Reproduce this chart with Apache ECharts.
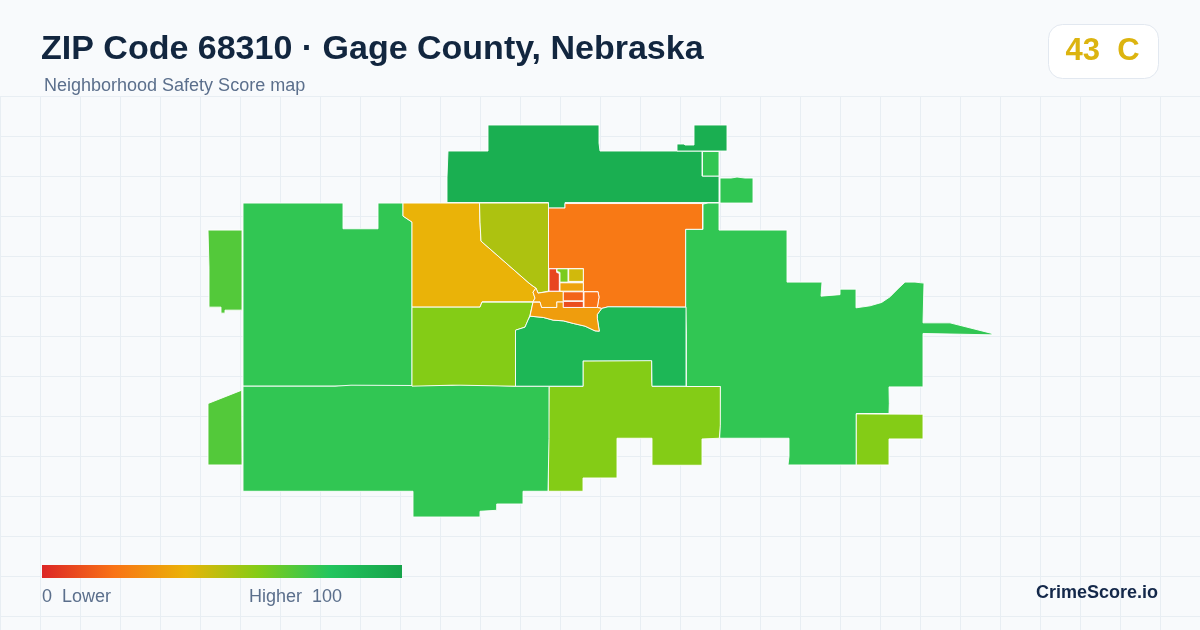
<!DOCTYPE html>
<html>
<head>
<meta charset="utf-8">
<title>ZIP Code 68310</title>
<script src="https://cdn.jsdelivr.net/npm/echarts@6/dist/echarts.min.js"></script>
<style>
  html, body { margin: 0; padding: 0; background: #f8fafc; }
  #chart { width: 1200px; height: 630px; }
</style>
</head>
<body>
<div id="chart"></div>
<script>
const titleText = "ZIP Code 68310 · Gage County, Nebraska"
const subtitleText = "Neighborhood Safety Score map"
const overallScore = 43
const overallGrade = "C"
const scaleColors = ["#dc2626", "#f97316", "#eab308", "#84cc16", "#22c55e", "#16a34a"]

const northOutline = [[488,125],[599,125],[599,143],[600,151],[702,151],[702,176],[719,176],[719,202.5],[565,202.5],[565,208],[548.5,208],[548.5,202.5],[447,202.5],[447,177],[448,151],[488,151]]
const northTailOutline = [[677,144],[684,144],[685,145],[694,145],[694,125],[727,125],[727,151],[677,151]]
const northNotchOutline = [[702.5,151.5],[719,151.5],[719,176],[702.5,176]]
const northEastOutline = [[720,178],[731,178],[737,177],[745,178],[753,178],[753,203],[720,203]]
const westOutline = [[243,203],[343,203],[343,228.7],[378,228.7],[378,203],[403,203],[403,216],[412,222],[412,307],[412,386],[243,386]]
const farWestOutline = [[208,230],[242,230],[242,310],[225,310],[225,313],[221,313],[221,307],[209,307],[209,268],[208,268]]
const farSouthWestOutline = [[208,403.3],[241.7,390],[242,464.7],[208,464.7]]
const cityWestOutline = [[403,203],[479.5,203],[480,222],[481,241],[529,283],[533,286],[536,288],[533,292],[535,298],[533,301.7],[482,301.7],[480,307],[412,307],[412,222],[403,216]]
const cityNorthOutline = [[479.5,203],[548.5,203],[548.5,291],[538,293],[536,288],[533,286],[529,283],[481,241],[480,222]]
const cityNorthEastOutline = [[548.5,208],[565,208],[565,203.5],[702.5,203.5],[702.5,229.3],[685.7,229.3],[685.7,307],[608,306.7],[601.7,308.3],[597.3,307.3],[599,297],[598,291.4],[583.3,291.4],[583.3,268.4],[548.5,268.4]]
const eastOutline = [[703,204],[708,203],[719,203],[719,230],[787,230],[787,282],[822,282],[821,296],[840,294.5],[840,289],[856,289],[856,307.7],[870,305.7],[881.7,302.3],[890,296.7],[898.3,288.3],[905,282],[915,282],[924,283],[923,322.7],[950,322.7],[992,333.3],[992,334.7],[923,333.3],[923,386.7],[889,386.7],[889.3,403.3],[889,413.3],[856.3,413.3],[856.3,464.7],[788,464.7],[789,456],[789,438],[719.7,438],[720.3,386.3],[686.3,386.3],[686.3,333],[685.7,307],[685.7,229.3],[703,229.3]]
const southCentralOutline = [[549,386.3],[583,386.3],[583,360.7],[651.7,360.3],[651.7,380],[652.3,386.3],[720.3,386.3],[720.3,425],[719.3,438],[702,438.7],[702,465],[652,465],[652,438],[617,438],[617,477.7],[583,477.7],[583,491],[548.3,491],[548.3,438.3],[549.3,438]]
const southWestOutline = [[243,386],[249,386],[335,386],[351,385],[412,385.3],[452,385],[460,384.5],[490,385],[515,386],[549,386],[549,438],[548,491],[523,491],[523,503.7],[496.7,503.7],[496.7,510],[480,511],[480,516.7],[413,516.7],[413,491],[243,491]]
const cityWestSouthOutline = [[412,307],[480,307],[482,302],[533,302],[530,315],[528,320],[525,327],[516,330],[515.5,386],[460,385],[452,385],[412,386]]
const citySouthOutline = [[515.5,330],[516,330],[525,327],[528,320],[530,316],[543.3,317.3],[553.3,320],[563.3,320.7],[573.3,323.3],[585,326],[595,330.7],[599.3,331],[597.3,318.3],[597.3,314.3],[601.7,308.3],[608,306.7],[686,307],[686,386],[652,386],[651.7,360.5],[583,360.7],[583,386],[515.5,386]]
const southEastOutline = [[856.3,413.7],[923,414],[923,438.7],[889,438.7],[889,464.7],[856.3,464.7]]
const townRiverOutline = [[533,302],[540,302],[541.7,307.3],[556.7,307.3],[556.7,301.7],[563.3,301.7],[563.3,307.3],[597.3,307.3],[601.7,308.3],[597.3,314.3],[597.3,318.3],[599.3,331],[595,330.7],[585,326],[573.3,323.3],[563.3,320.7],[553.3,320],[543.3,317.3],[530,316]]
const townWestOutline = [[536,288],[538,293],[549,291.4],[563.3,291.4],[563.3,301.7],[556.7,301.7],[556.7,307.3],[541.7,307.3],[540,301.7],[533,301.7],[535,298],[533,292]]
const townRedOutline = [[549,268.7],[556.7,268.7],[556.7,272.3],[559.3,273.3],[559.3,291],[549,291]]
const townLimeOutline = [[557,268.7],[568,268.7],[568,282],[560,282],[560,272.3],[557,271.3]]
const townGoldOutline = [[568.7,268.7],[583.3,268.7],[583.3,281.3],[568.7,281.3]]
const townAmberOutline = [[560,282.7],[583.3,282.7],[583.3,291],[560,291]]
const townCoreOutline = [[563.3,291.7],[583.3,291.7],[583.3,300.7],[563.3,300.7]]
const townCoreSouthOutline = [[563.3,301.3],[583.3,301.3],[583.3,307.3],[563.3,307.3]]
const townEastOutline = [[584,291.7],[598,291.7],[599,297],[597.3,307.3],[584,307.3]]

const regionNames = ["north", "northTail", "northNotch", "northEast", "west", "farWest", "farSouthWest", "cityWest", "cityNorth", "cityNorthEast", "east", "southCentral", "southWest", "cityWestSouth", "citySouth", "southEast", "townRiver", "townWest", "townRed", "townLime", "townGold", "townAmber", "townCore", "townCoreSouth", "townEast"]
const regionScores = [93, 93, 77, 77, 77, 70, 70, 40, 52, 22, 77, 60, 77, 60, 88, 60, 33, 33, 8, 62, 45, 35, 16, 10, 20]
const regionOutlines = [northOutline, northTailOutline, northNotchOutline, northEastOutline, westOutline, farWestOutline, farSouthWestOutline, cityWestOutline, cityNorthOutline, cityNorthEastOutline, eastOutline, southCentralOutline, southWestOutline, cityWestSouthOutline, citySouthOutline, southEastOutline, townRiverOutline, townWestOutline, townRedOutline, townLimeOutline, townGoldOutline, townAmberOutline, townCoreOutline, townCoreSouthOutline, townEastOutline]

const gridXTicks = [0, 40, 80, 120, 160, 200, 240, 280, 320, 360, 400, 440, 480, 520, 560, 600, 640, 680, 720, 760, 800, 840, 880, 920, 960, 1000, 1040, 1080, 1120, 1160]
const gridYTicks = [96, 136, 176, 216, 256, 296, 336, 376, 416, 456, 496, 536, 576, 616]

const closeRing = outline => outline.concat([outline[0]])

echarts.registerMap("zip68310", {
  type: "FeatureCollection",
  features: regionNames.map((name, i) => ({
    type: "Feature",
    properties: { name },
    geometry: { type: "Polygon", coordinates: [closeRing(regionOutlines[i])] }
  }))
})

const gridLine = { stroke: "#e8eef3", lineWidth: 1 }
const gridLines = [
  ...gridXTicks.map(x => ({ type: "line", z: 0, silent: true, shape: { x1: x + 0.5, y1: 96, x2: x + 0.5, y2: 630 }, style: gridLine })),
  ...gridYTicks.map(y => ({ type: "line", z: 0, silent: true, shape: { x1: 0, y1: y + 0.5, x2: 1200, y2: y + 0.5 }, style: gridLine }))
]

// the visualMap bar has rounded ends, the reference's is square, so it is drawn here
const scaleGradient = new echarts.graphic.LinearGradient(0, 0, 1, 0,
  scaleColors.map((color, i) => ({ offset: i / (scaleColors.length - 1), color })))

const legendFont = { fontFamily: "Liberation Sans", fontSize: 18, fill: "#5b6f8c" }

const chart = echarts.init(document.getElementById("chart"), null, { renderer: "canvas" })
chart.setOption({
  animation: false,
  backgroundColor: "#f8fafc",
  title: [
    { text: titleText, left: 41, top: 33, padding: 0, textStyle: { fontFamily: "Liberation Sans", fontSize: 34, fontWeight: "bold", color: "#12263f" } },
    { text: subtitleText, left: 44, top: 77, padding: 0, textStyle: { fontFamily: "Liberation Sans", fontSize: 18, fontWeight: "normal", color: "#5b6f8c" } }
  ],
  visualMap: {
    type: "continuous",
    show: false,
    min: 0,
    max: 100,
    seriesIndex: 0,
    inRange: { color: scaleColors }
  },
  series: [{
    type: "map",
    map: "zip68310",
    projection: { project: p => p, unproject: p => p },
    left: 208,
    top: 125,
    width: 784,
    height: 392,
    roam: false,
    silent: true,
    label: { show: false },
    itemStyle: { borderColor: "#ffffff", borderWidth: 0.9 },
    data: regionNames.map((name, i) => ({ name, value: regionScores[i] }))
  }],
  graphic: [
    ...gridLines,
    { type: "rect", z: 5, shape: { x: 1048.5, y: 24.5, width: 110, height: 54, r: 14 }, style: { fill: "#ffffff", stroke: "#e2e8f0", lineWidth: 1 } },
    { type: "text", z: 6, x: 1102.5, y: 51, style: { text: overallScore + "  " + overallGrade, align: "center", verticalAlign: "middle", fontFamily: "Liberation Sans", fontSize: 31, fontWeight: "bold", fill: "#dcb40f" } },
    { type: "rect", z: 5, shape: { x: 42, y: 565, width: 360, height: 13 }, style: { fill: scaleGradient } },
    { type: "text", z: 6, x: 42, y: 597, style: { ...legendFont, text: "0  Lower", verticalAlign: "middle" } },
    { type: "text", z: 6, x: 249, y: 597, style: { ...legendFont, text: "Higher  100", verticalAlign: "middle" } },
    { type: "text", z: 6, x: 1158, y: 593, style: { text: "CrimeScore.io", align: "right", verticalAlign: "middle", fontFamily: "Liberation Sans", fontSize: 18, fontWeight: "bold", fill: "#14284a" } }
  ]
})
</script>
</body>
</html>
